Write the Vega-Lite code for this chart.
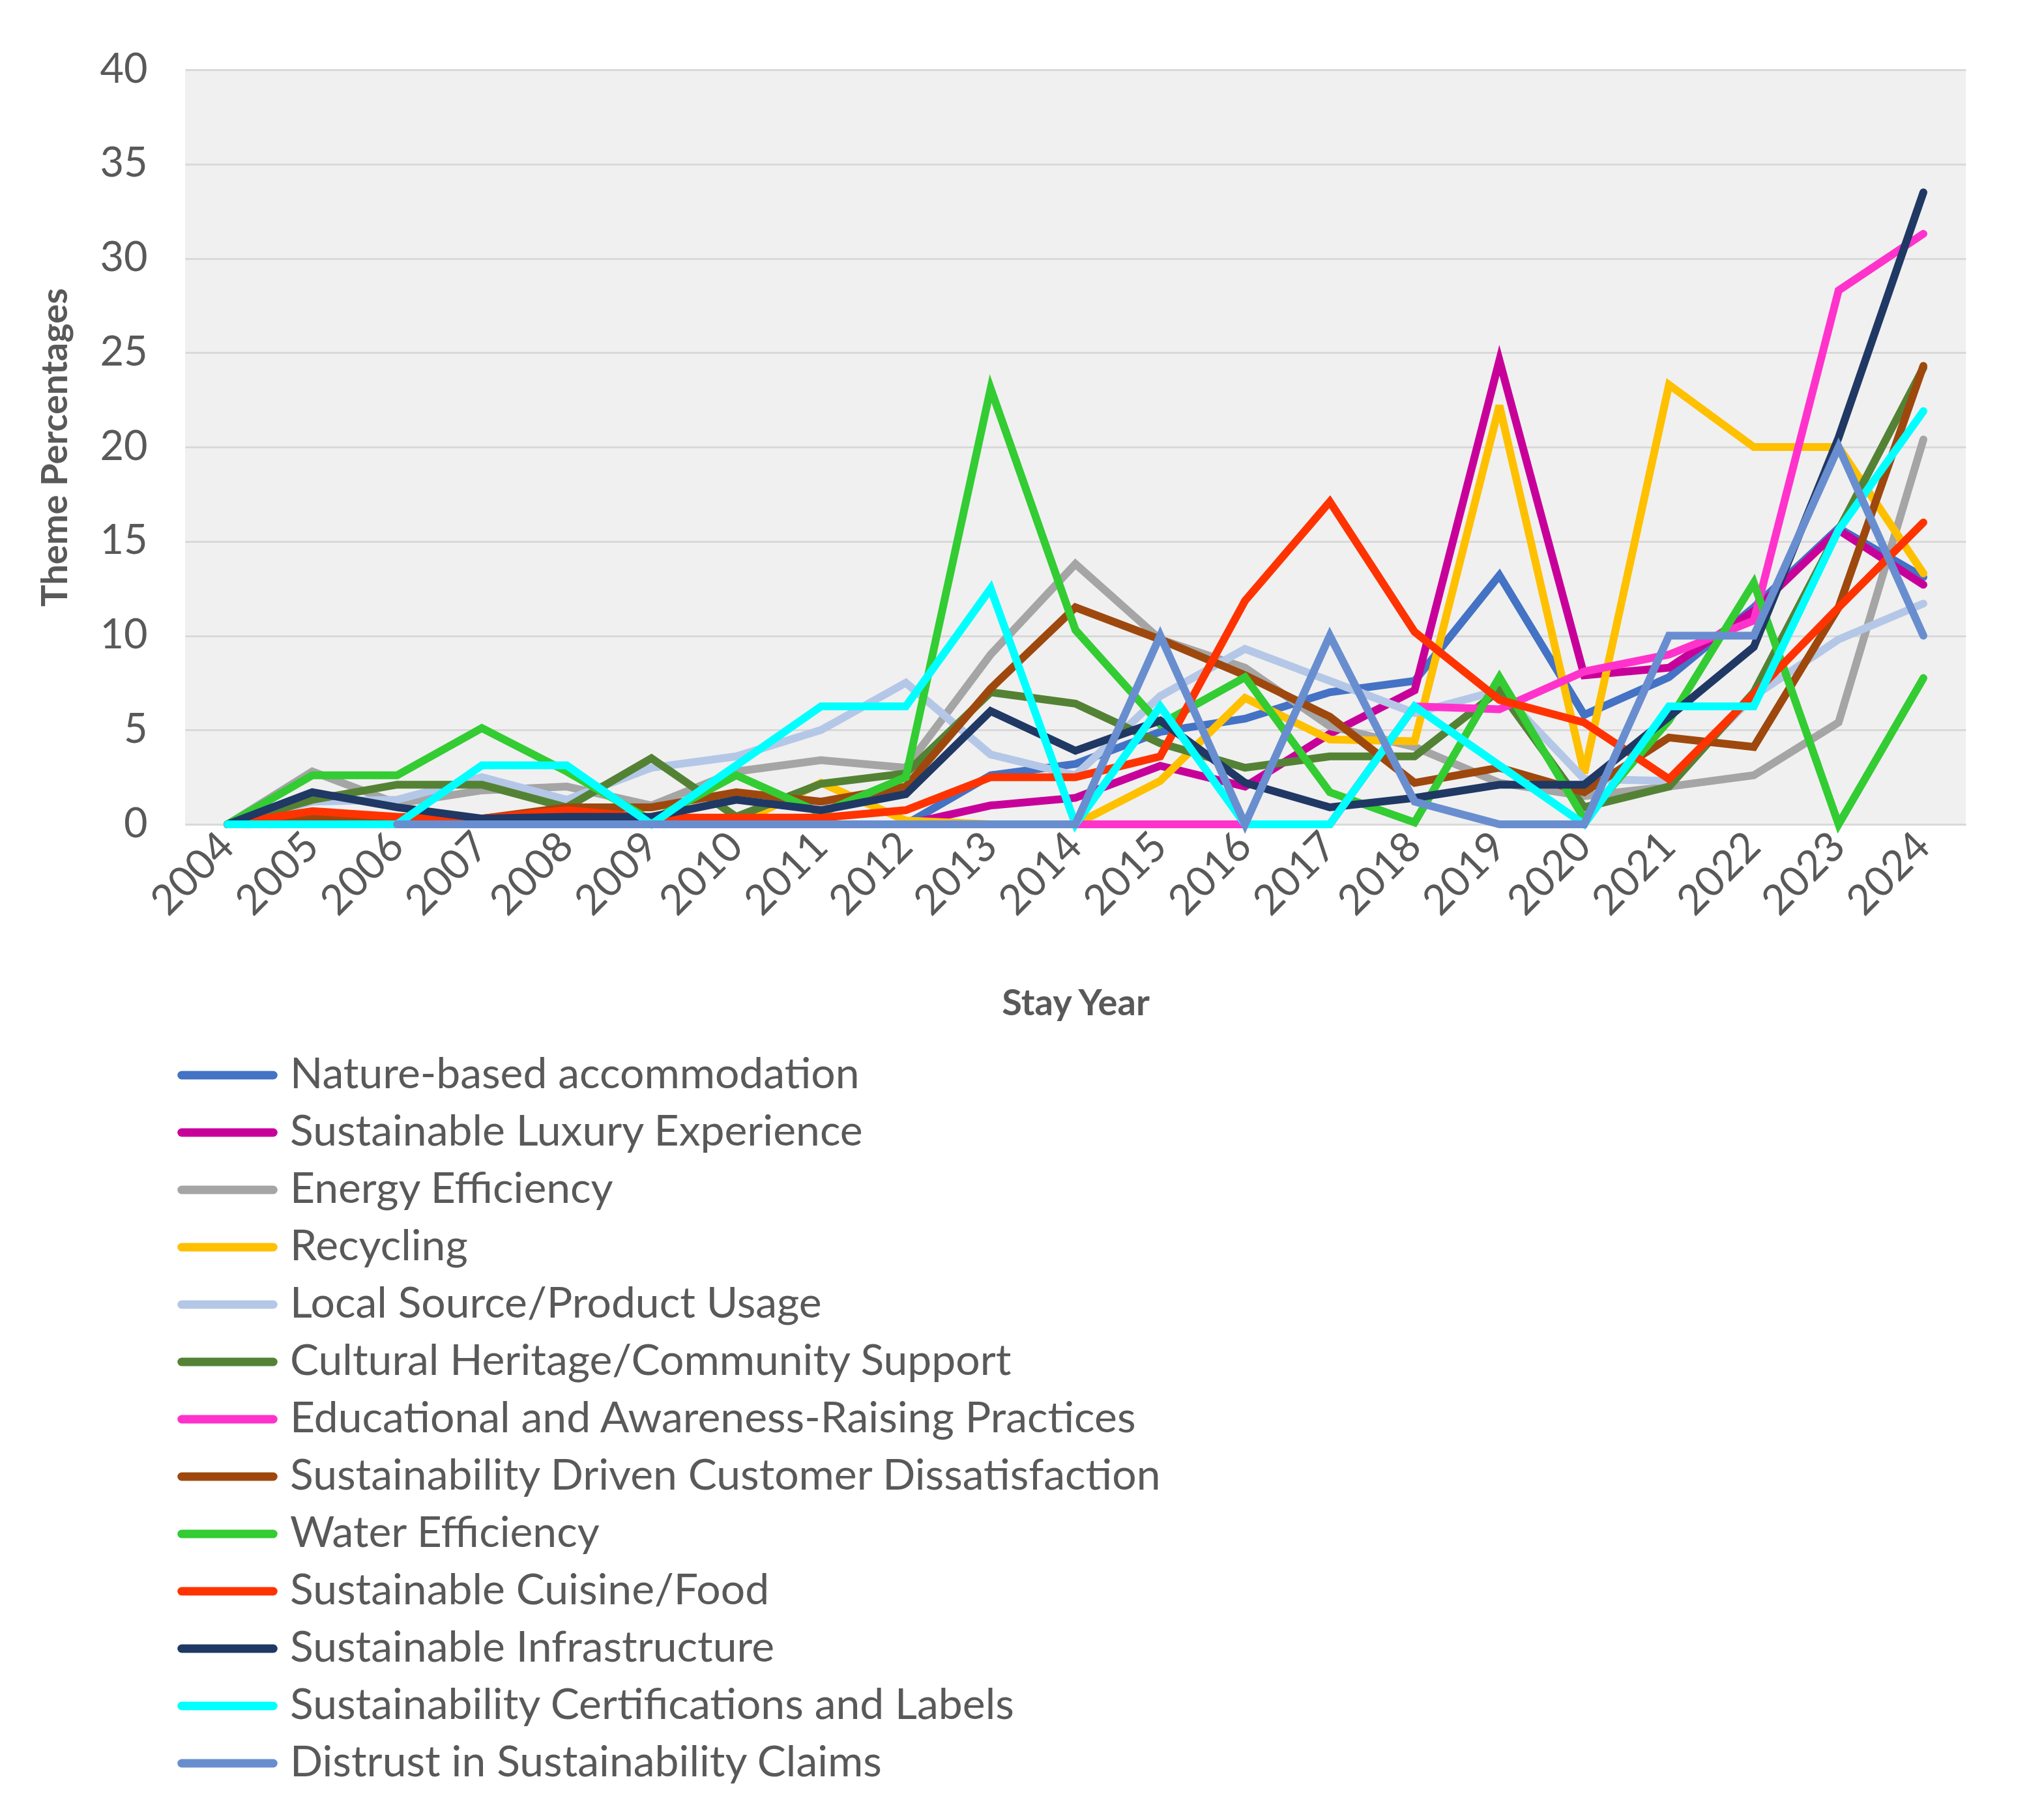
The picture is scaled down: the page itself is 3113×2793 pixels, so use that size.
{
  "$schema": "https://vega.github.io/schema/vega-lite/v6.json",
  "width": 2732,
  "height": 1158,
  "autosize": {"type": "none"},
  "padding": {"left": 284, "top": 107, "right": 97, "bottom": 1528},
  "background": "white",
  "config": {
    "font": "Lato",
    "view": {"fill": "#f0f0f0", "stroke": null}
  },
  "data": {
    "values": [
      {"year": "2004", "theme": "Nature-based accommodation", "pct": 0},
      {"year": "2005", "theme": "Nature-based accommodation", "pct": 0},
      {"year": "2006", "theme": "Nature-based accommodation", "pct": 0},
      {"year": "2007", "theme": "Nature-based accommodation", "pct": 0},
      {"year": "2008", "theme": "Nature-based accommodation", "pct": 0},
      {"year": "2009", "theme": "Nature-based accommodation", "pct": 0},
      {"year": "2010", "theme": "Nature-based accommodation", "pct": 0},
      {"year": "2011", "theme": "Nature-based accommodation", "pct": 0},
      {"year": "2012", "theme": "Nature-based accommodation", "pct": 0},
      {"year": "2013", "theme": "Nature-based accommodation", "pct": 2.6},
      {"year": "2014", "theme": "Nature-based accommodation", "pct": 3.2},
      {"year": "2015", "theme": "Nature-based accommodation", "pct": 4.9},
      {"year": "2016", "theme": "Nature-based accommodation", "pct": 5.6},
      {"year": "2017", "theme": "Nature-based accommodation", "pct": 7.0},
      {"year": "2018", "theme": "Nature-based accommodation", "pct": 7.6},
      {"year": "2019", "theme": "Nature-based accommodation", "pct": 13.2},
      {"year": "2020", "theme": "Nature-based accommodation", "pct": 5.8},
      {"year": "2021", "theme": "Nature-based accommodation", "pct": 7.8},
      {"year": "2022", "theme": "Nature-based accommodation", "pct": 11.5},
      {"year": "2023", "theme": "Nature-based accommodation", "pct": 15.7},
      {"year": "2024", "theme": "Nature-based accommodation", "pct": 13.1},

      {"year": "2004", "theme": "Sustainable Luxury Experience", "pct": 0},
      {"year": "2005", "theme": "Sustainable Luxury Experience", "pct": 0},
      {"year": "2006", "theme": "Sustainable Luxury Experience", "pct": 0},
      {"year": "2007", "theme": "Sustainable Luxury Experience", "pct": 0},
      {"year": "2008", "theme": "Sustainable Luxury Experience", "pct": 0},
      {"year": "2009", "theme": "Sustainable Luxury Experience", "pct": 0},
      {"year": "2010", "theme": "Sustainable Luxury Experience", "pct": 0},
      {"year": "2011", "theme": "Sustainable Luxury Experience", "pct": 0},
      {"year": "2012", "theme": "Sustainable Luxury Experience", "pct": 0},
      {"year": "2013", "theme": "Sustainable Luxury Experience", "pct": 1.0},
      {"year": "2014", "theme": "Sustainable Luxury Experience", "pct": 1.4},
      {"year": "2015", "theme": "Sustainable Luxury Experience", "pct": 3.1},
      {"year": "2016", "theme": "Sustainable Luxury Experience", "pct": 2.0},
      {"year": "2017", "theme": "Sustainable Luxury Experience", "pct": 4.8},
      {"year": "2018", "theme": "Sustainable Luxury Experience", "pct": 7.1},
      {"year": "2019", "theme": "Sustainable Luxury Experience", "pct": 24.6},
      {"year": "2020", "theme": "Sustainable Luxury Experience", "pct": 7.9},
      {"year": "2021", "theme": "Sustainable Luxury Experience", "pct": 8.3},
      {"year": "2022", "theme": "Sustainable Luxury Experience", "pct": 11.3},
      {"year": "2023", "theme": "Sustainable Luxury Experience", "pct": 15.6},
      {"year": "2024", "theme": "Sustainable Luxury Experience", "pct": 12.7},

      {"year": "2004", "theme": "Energy Efficiency", "pct": 0},
      {"year": "2005", "theme": "Energy Efficiency", "pct": 2.8},
      {"year": "2006", "theme": "Energy Efficiency", "pct": 1.1},
      {"year": "2007", "theme": "Energy Efficiency", "pct": 1.8},
      {"year": "2008", "theme": "Energy Efficiency", "pct": 2.0},
      {"year": "2009", "theme": "Energy Efficiency", "pct": 1.0},
      {"year": "2010", "theme": "Energy Efficiency", "pct": 2.8},
      {"year": "2011", "theme": "Energy Efficiency", "pct": 3.4},
      {"year": "2012", "theme": "Energy Efficiency", "pct": 3.0},
      {"year": "2013", "theme": "Energy Efficiency", "pct": 9.0},
      {"year": "2014", "theme": "Energy Efficiency", "pct": 13.8},
      {"year": "2015", "theme": "Energy Efficiency", "pct": 9.8},
      {"year": "2016", "theme": "Energy Efficiency", "pct": 8.3},
      {"year": "2017", "theme": "Energy Efficiency", "pct": 5.2},
      {"year": "2018", "theme": "Energy Efficiency", "pct": 4.1},
      {"year": "2019", "theme": "Energy Efficiency", "pct": 2.2},
      {"year": "2020", "theme": "Energy Efficiency", "pct": 1.5},
      {"year": "2021", "theme": "Energy Efficiency", "pct": 2.0},
      {"year": "2022", "theme": "Energy Efficiency", "pct": 2.6},
      {"year": "2023", "theme": "Energy Efficiency", "pct": 5.4},
      {"year": "2024", "theme": "Energy Efficiency", "pct": 20.4},

      {"year": "2004", "theme": "Recycling", "pct": 0},
      {"year": "2005", "theme": "Recycling", "pct": 0},
      {"year": "2006", "theme": "Recycling", "pct": 0},
      {"year": "2007", "theme": "Recycling", "pct": 0},
      {"year": "2008", "theme": "Recycling", "pct": 0},
      {"year": "2009", "theme": "Recycling", "pct": 0},
      {"year": "2010", "theme": "Recycling", "pct": 0},
      {"year": "2011", "theme": "Recycling", "pct": 2.2},
      {"year": "2012", "theme": "Recycling", "pct": 0.2},
      {"year": "2013", "theme": "Recycling", "pct": 0},
      {"year": "2014", "theme": "Recycling", "pct": 0},
      {"year": "2015", "theme": "Recycling", "pct": 2.3},
      {"year": "2016", "theme": "Recycling", "pct": 6.7},
      {"year": "2017", "theme": "Recycling", "pct": 4.5},
      {"year": "2018", "theme": "Recycling", "pct": 4.4},
      {"year": "2019", "theme": "Recycling", "pct": 22.2},
      {"year": "2020", "theme": "Recycling", "pct": 2.7},
      {"year": "2021", "theme": "Recycling", "pct": 23.3},
      {"year": "2022", "theme": "Recycling", "pct": 20.0},
      {"year": "2023", "theme": "Recycling", "pct": 20.0},
      {"year": "2024", "theme": "Recycling", "pct": 13.3},

      {"year": "2004", "theme": "Local Source/Product Usage", "pct": 0},
      {"year": "2005", "theme": "Local Source/Product Usage", "pct": 1.2},
      {"year": "2006", "theme": "Local Source/Product Usage", "pct": 1.3},
      {"year": "2007", "theme": "Local Source/Product Usage", "pct": 2.5},
      {"year": "2008", "theme": "Local Source/Product Usage", "pct": 1.3},
      {"year": "2009", "theme": "Local Source/Product Usage", "pct": 3.0},
      {"year": "2010", "theme": "Local Source/Product Usage", "pct": 3.6},
      {"year": "2011", "theme": "Local Source/Product Usage", "pct": 5.0},
      {"year": "2012", "theme": "Local Source/Product Usage", "pct": 7.5},
      {"year": "2013", "theme": "Local Source/Product Usage", "pct": 3.7},
      {"year": "2014", "theme": "Local Source/Product Usage", "pct": 2.6},
      {"year": "2015", "theme": "Local Source/Product Usage", "pct": 6.8},
      {"year": "2016", "theme": "Local Source/Product Usage", "pct": 9.3},
      {"year": "2017", "theme": "Local Source/Product Usage", "pct": 7.6},
      {"year": "2018", "theme": "Local Source/Product Usage", "pct": 5.9},
      {"year": "2019", "theme": "Local Source/Product Usage", "pct": 7.1},
      {"year": "2020", "theme": "Local Source/Product Usage", "pct": 2.4},
      {"year": "2021", "theme": "Local Source/Product Usage", "pct": 2.3},
      {"year": "2022", "theme": "Local Source/Product Usage", "pct": 6.8},
      {"year": "2023", "theme": "Local Source/Product Usage", "pct": 9.8},
      {"year": "2024", "theme": "Local Source/Product Usage", "pct": 11.7},

      {"year": "2004", "theme": "Cultural Heritage/Community Support", "pct": 0},
      {"year": "2005", "theme": "Cultural Heritage/Community Support", "pct": 1.3},
      {"year": "2006", "theme": "Cultural Heritage/Community Support", "pct": 2.1},
      {"year": "2007", "theme": "Cultural Heritage/Community Support", "pct": 2.1},
      {"year": "2008", "theme": "Cultural Heritage/Community Support", "pct": 0.9},
      {"year": "2009", "theme": "Cultural Heritage/Community Support", "pct": 3.5},
      {"year": "2010", "theme": "Cultural Heritage/Community Support", "pct": 0.4},
      {"year": "2011", "theme": "Cultural Heritage/Community Support", "pct": 2.15},
      {"year": "2012", "theme": "Cultural Heritage/Community Support", "pct": 2.7},
      {"year": "2013", "theme": "Cultural Heritage/Community Support", "pct": 7.0},
      {"year": "2014", "theme": "Cultural Heritage/Community Support", "pct": 6.4},
      {"year": "2015", "theme": "Cultural Heritage/Community Support", "pct": 4.3},
      {"year": "2016", "theme": "Cultural Heritage/Community Support", "pct": 3.0},
      {"year": "2017", "theme": "Cultural Heritage/Community Support", "pct": 3.6},
      {"year": "2018", "theme": "Cultural Heritage/Community Support", "pct": 3.6},
      {"year": "2019", "theme": "Cultural Heritage/Community Support", "pct": 7.1},
      {"year": "2020", "theme": "Cultural Heritage/Community Support", "pct": 0.9},
      {"year": "2021", "theme": "Cultural Heritage/Community Support", "pct": 2.0},
      {"year": "2022", "theme": "Cultural Heritage/Community Support", "pct": 7.0},
      {"year": "2023", "theme": "Cultural Heritage/Community Support", "pct": 15.6},
      {"year": "2024", "theme": "Cultural Heritage/Community Support", "pct": 24.2},

      {"year": "2004", "theme": "Educational and Awareness-Raising Practices", "pct": 0},
      {"year": "2005", "theme": "Educational and Awareness-Raising Practices", "pct": 0},
      {"year": "2006", "theme": "Educational and Awareness-Raising Practices", "pct": 0},
      {"year": "2007", "theme": "Educational and Awareness-Raising Practices", "pct": 0},
      {"year": "2008", "theme": "Educational and Awareness-Raising Practices", "pct": 0},
      {"year": "2009", "theme": "Educational and Awareness-Raising Practices", "pct": 0},
      {"year": "2010", "theme": "Educational and Awareness-Raising Practices", "pct": 0},
      {"year": "2011", "theme": "Educational and Awareness-Raising Practices", "pct": 0},
      {"year": "2012", "theme": "Educational and Awareness-Raising Practices", "pct": 0},
      {"year": "2013", "theme": "Educational and Awareness-Raising Practices", "pct": 0},
      {"year": "2014", "theme": "Educational and Awareness-Raising Practices", "pct": 0},
      {"year": "2015", "theme": "Educational and Awareness-Raising Practices", "pct": 0},
      {"year": "2016", "theme": "Educational and Awareness-Raising Practices", "pct": 0},
      {"year": "2017", "theme": "Educational and Awareness-Raising Practices", "pct": 0},
      {"year": "2018", "theme": "Educational and Awareness-Raising Practices", "pct": 6.25},
      {"year": "2019", "theme": "Educational and Awareness-Raising Practices", "pct": 6.1},
      {"year": "2020", "theme": "Educational and Awareness-Raising Practices", "pct": 8.1},
      {"year": "2021", "theme": "Educational and Awareness-Raising Practices", "pct": 9.0},
      {"year": "2022", "theme": "Educational and Awareness-Raising Practices", "pct": 10.8},
      {"year": "2023", "theme": "Educational and Awareness-Raising Practices", "pct": 28.3},
      {"year": "2024", "theme": "Educational and Awareness-Raising Practices", "pct": 31.3},

      {"year": "2004", "theme": "Sustainability Driven Customer Dissatisfaction", "pct": 0},
      {"year": "2005", "theme": "Sustainability Driven Customer Dissatisfaction", "pct": 0.3},
      {"year": "2006", "theme": "Sustainability Driven Customer Dissatisfaction", "pct": 0.3},
      {"year": "2007", "theme": "Sustainability Driven Customer Dissatisfaction", "pct": 0.3},
      {"year": "2008", "theme": "Sustainability Driven Customer Dissatisfaction", "pct": 0.9},
      {"year": "2009", "theme": "Sustainability Driven Customer Dissatisfaction", "pct": 0.9},
      {"year": "2010", "theme": "Sustainability Driven Customer Dissatisfaction", "pct": 1.7},
      {"year": "2011", "theme": "Sustainability Driven Customer Dissatisfaction", "pct": 1.2},
      {"year": "2012", "theme": "Sustainability Driven Customer Dissatisfaction", "pct": 2.0},
      {"year": "2013", "theme": "Sustainability Driven Customer Dissatisfaction", "pct": 7.2},
      {"year": "2014", "theme": "Sustainability Driven Customer Dissatisfaction", "pct": 11.5},
      {"year": "2015", "theme": "Sustainability Driven Customer Dissatisfaction", "pct": 9.8},
      {"year": "2016", "theme": "Sustainability Driven Customer Dissatisfaction", "pct": 7.9},
      {"year": "2017", "theme": "Sustainability Driven Customer Dissatisfaction", "pct": 5.7},
      {"year": "2018", "theme": "Sustainability Driven Customer Dissatisfaction", "pct": 2.2},
      {"year": "2019", "theme": "Sustainability Driven Customer Dissatisfaction", "pct": 3.0},
      {"year": "2020", "theme": "Sustainability Driven Customer Dissatisfaction", "pct": 1.7},
      {"year": "2021", "theme": "Sustainability Driven Customer Dissatisfaction", "pct": 4.6},
      {"year": "2022", "theme": "Sustainability Driven Customer Dissatisfaction", "pct": 4.1},
      {"year": "2023", "theme": "Sustainability Driven Customer Dissatisfaction", "pct": 11.5},
      {"year": "2024", "theme": "Sustainability Driven Customer Dissatisfaction", "pct": 24.3},

      {"year": "2004", "theme": "Water Efficiency", "pct": 0},
      {"year": "2005", "theme": "Water Efficiency", "pct": 2.6},
      {"year": "2006", "theme": "Water Efficiency", "pct": 2.6},
      {"year": "2007", "theme": "Water Efficiency", "pct": 5.1},
      {"year": "2008", "theme": "Water Efficiency", "pct": 2.8},
      {"year": "2009", "theme": "Water Efficiency", "pct": 0.2},
      {"year": "2010", "theme": "Water Efficiency", "pct": 2.6},
      {"year": "2011", "theme": "Water Efficiency", "pct": 0.6},
      {"year": "2012", "theme": "Water Efficiency", "pct": 2.5},
      {"year": "2013", "theme": "Water Efficiency", "pct": 23.1},
      {"year": "2014", "theme": "Water Efficiency", "pct": 10.3},
      {"year": "2015", "theme": "Water Efficiency", "pct": 5.3},
      {"year": "2016", "theme": "Water Efficiency", "pct": 7.8},
      {"year": "2017", "theme": "Water Efficiency", "pct": 1.7},
      {"year": "2018", "theme": "Water Efficiency", "pct": 0.1},
      {"year": "2019", "theme": "Water Efficiency", "pct": 7.8},
      {"year": "2020", "theme": "Water Efficiency", "pct": 0.3},
      {"year": "2021", "theme": "Water Efficiency", "pct": 5.5},
      {"year": "2022", "theme": "Water Efficiency", "pct": 12.8},
      {"year": "2023", "theme": "Water Efficiency", "pct": 0},
      {"year": "2024", "theme": "Water Efficiency", "pct": 7.75},

      {"year": "2004", "theme": "Sustainable Cuisine/Food", "pct": 0},
      {"year": "2005", "theme": "Sustainable Cuisine/Food", "pct": 0.7},
      {"year": "2006", "theme": "Sustainable Cuisine/Food", "pct": 0.4},
      {"year": "2007", "theme": "Sustainable Cuisine/Food", "pct": 0.3},
      {"year": "2008", "theme": "Sustainable Cuisine/Food", "pct": 0.75},
      {"year": "2009", "theme": "Sustainable Cuisine/Food", "pct": 0.35},
      {"year": "2010", "theme": "Sustainable Cuisine/Food", "pct": 0.35},
      {"year": "2011", "theme": "Sustainable Cuisine/Food", "pct": 0.35},
      {"year": "2012", "theme": "Sustainable Cuisine/Food", "pct": 0.75},
      {"year": "2013", "theme": "Sustainable Cuisine/Food", "pct": 2.5},
      {"year": "2014", "theme": "Sustainable Cuisine/Food", "pct": 2.5},
      {"year": "2015", "theme": "Sustainable Cuisine/Food", "pct": 3.6},
      {"year": "2016", "theme": "Sustainable Cuisine/Food", "pct": 11.85},
      {"year": "2017", "theme": "Sustainable Cuisine/Food", "pct": 17.1},
      {"year": "2018", "theme": "Sustainable Cuisine/Food", "pct": 10.2},
      {"year": "2019", "theme": "Sustainable Cuisine/Food", "pct": 6.6},
      {"year": "2020", "theme": "Sustainable Cuisine/Food", "pct": 5.4},
      {"year": "2021", "theme": "Sustainable Cuisine/Food", "pct": 2.4},
      {"year": "2022", "theme": "Sustainable Cuisine/Food", "pct": 6.9},
      {"year": "2023", "theme": "Sustainable Cuisine/Food", "pct": 11.5},
      {"year": "2024", "theme": "Sustainable Cuisine/Food", "pct": 16.0},

      {"year": "2004", "theme": "Sustainable Infrastructure", "pct": 0},
      {"year": "2005", "theme": "Sustainable Infrastructure", "pct": 1.7},
      {"year": "2006", "theme": "Sustainable Infrastructure", "pct": 0.9},
      {"year": "2007", "theme": "Sustainable Infrastructure", "pct": 0.3},
      {"year": "2008", "theme": "Sustainable Infrastructure", "pct": 0.4},
      {"year": "2009", "theme": "Sustainable Infrastructure", "pct": 0.4},
      {"year": "2010", "theme": "Sustainable Infrastructure", "pct": 1.3},
      {"year": "2011", "theme": "Sustainable Infrastructure", "pct": 0.75},
      {"year": "2012", "theme": "Sustainable Infrastructure", "pct": 1.6},
      {"year": "2013", "theme": "Sustainable Infrastructure", "pct": 6.0},
      {"year": "2014", "theme": "Sustainable Infrastructure", "pct": 3.9},
      {"year": "2015", "theme": "Sustainable Infrastructure", "pct": 5.5},
      {"year": "2016", "theme": "Sustainable Infrastructure", "pct": 2.2},
      {"year": "2017", "theme": "Sustainable Infrastructure", "pct": 0.9},
      {"year": "2018", "theme": "Sustainable Infrastructure", "pct": 1.4},
      {"year": "2019", "theme": "Sustainable Infrastructure", "pct": 2.1},
      {"year": "2020", "theme": "Sustainable Infrastructure", "pct": 2.1},
      {"year": "2021", "theme": "Sustainable Infrastructure", "pct": 5.7},
      {"year": "2022", "theme": "Sustainable Infrastructure", "pct": 9.4},
      {"year": "2023", "theme": "Sustainable Infrastructure", "pct": 20.5},
      {"year": "2024", "theme": "Sustainable Infrastructure", "pct": 33.5},

      {"year": "2004", "theme": "Sustainability Certifications and Labels", "pct": 0},
      {"year": "2005", "theme": "Sustainability Certifications and Labels", "pct": 0},
      {"year": "2006", "theme": "Sustainability Certifications and Labels", "pct": 0},
      {"year": "2007", "theme": "Sustainability Certifications and Labels", "pct": 3.125},
      {"year": "2008", "theme": "Sustainability Certifications and Labels", "pct": 3.125},
      {"year": "2009", "theme": "Sustainability Certifications and Labels", "pct": 0},
      {"year": "2010", "theme": "Sustainability Certifications and Labels", "pct": 3.125},
      {"year": "2011", "theme": "Sustainability Certifications and Labels", "pct": 6.25},
      {"year": "2012", "theme": "Sustainability Certifications and Labels", "pct": 6.25},
      {"year": "2013", "theme": "Sustainability Certifications and Labels", "pct": 12.5},
      {"year": "2014", "theme": "Sustainability Certifications and Labels", "pct": 0},
      {"year": "2015", "theme": "Sustainability Certifications and Labels", "pct": 6.25},
      {"year": "2016", "theme": "Sustainability Certifications and Labels", "pct": 0},
      {"year": "2017", "theme": "Sustainability Certifications and Labels", "pct": 0},
      {"year": "2018", "theme": "Sustainability Certifications and Labels", "pct": 6.25},
      {"year": "2019", "theme": "Sustainability Certifications and Labels", "pct": 3.125},
      {"year": "2020", "theme": "Sustainability Certifications and Labels", "pct": 0},
      {"year": "2021", "theme": "Sustainability Certifications and Labels", "pct": 6.25},
      {"year": "2022", "theme": "Sustainability Certifications and Labels", "pct": 6.25},
      {"year": "2023", "theme": "Sustainability Certifications and Labels", "pct": 15.6},
      {"year": "2024", "theme": "Sustainability Certifications and Labels", "pct": 21.9},

      {"year": "2006", "theme": "Distrust in Sustainability Claims", "pct": 0},
      {"year": "2007", "theme": "Distrust in Sustainability Claims", "pct": 0},
      {"year": "2008", "theme": "Distrust in Sustainability Claims", "pct": 0},
      {"year": "2009", "theme": "Distrust in Sustainability Claims", "pct": 0},
      {"year": "2010", "theme": "Distrust in Sustainability Claims", "pct": 0},
      {"year": "2011", "theme": "Distrust in Sustainability Claims", "pct": 0},
      {"year": "2012", "theme": "Distrust in Sustainability Claims", "pct": 0},
      {"year": "2013", "theme": "Distrust in Sustainability Claims", "pct": 0},
      {"year": "2014", "theme": "Distrust in Sustainability Claims", "pct": 0},
      {"year": "2015", "theme": "Distrust in Sustainability Claims", "pct": 10},
      {"year": "2016", "theme": "Distrust in Sustainability Claims", "pct": 0},
      {"year": "2017", "theme": "Distrust in Sustainability Claims", "pct": 10},
      {"year": "2018", "theme": "Distrust in Sustainability Claims", "pct": 1.2},
      {"year": "2019", "theme": "Distrust in Sustainability Claims", "pct": 0},
      {"year": "2020", "theme": "Distrust in Sustainability Claims", "pct": 0},
      {"year": "2021", "theme": "Distrust in Sustainability Claims", "pct": 10},
      {"year": "2022", "theme": "Distrust in Sustainability Claims", "pct": 10},
      {"year": "2023", "theme": "Distrust in Sustainability Claims", "pct": 20},
      {"year": "2024", "theme": "Distrust in Sustainability Claims", "pct": 10}
    ]
  },
  "mark": {"type": "line", "strokeWidth": 12, "strokeCap": "round", "strokeJoin": "miter", "strokeMiterLimit": 4},
  "encoding": {
    "x": {
      "field": "year",
      "type": "ordinal",
      "scale": {"type": "point", "padding": 0.5},
      "axis": {
        "title": "Stay Year",
        "titleFontSize": 56,
        "titleFontWeight": "bold",
        "titleColor": "#595959",
        "titlePadding": 97,
        "labelAngle": -45,
        "labelAlign": "right",
        "labelBaseline": "middle",
        "labelFontSize": 64,
        "labelColor": "#595959",
        "labelPadding": 24,
        "ticks": false,
        "grid": false,
        "domainColor": "#d9d9d9",
        "domainWidth": 3
      }
    },
    "y": {
      "field": "pct",
      "type": "quantitative",
      "scale": {"domain": [0, 40], "nice": false},
      "axis": {
        "title": "Theme Percentages",
        "titleFontSize": 56,
        "titleFontWeight": "bold",
        "titleColor": "#595959",
        "titlePadding": 38,
        "values": [0, 5, 10, 15, 20, 25, 30, 35, 40],
        "labelFontSize": 63,
        "labelColor": "#595959",
        "labelPadding": 58,
        "ticks": false,
        "domain": false,
        "gridColor": "#d9d9d9",
        "gridWidth": 3
      }
    },
    "color": {
      "field": "theme",
      "type": "nominal",
      "scale": {
        "domain": [
          "Nature-based accommodation",
          "Sustainable Luxury Experience",
          "Energy Efficiency",
          "Recycling",
          "Local Source/Product Usage",
          "Cultural Heritage/Community Support",
          "Educational and Awareness-Raising Practices",
          "Sustainability Driven Customer Dissatisfaction",
          "Water Efficiency",
          "Sustainable Cuisine/Food",
          "Sustainable Infrastructure",
          "Sustainability Certifications and Labels",
          "Distrust in Sustainability Claims"
        ],
        "range": [
          "#4472c4", "#c8009a", "#a5a5a5", "#ffc000", "#b4c7e7", "#548235",
          "#ff33cc", "#9e480e", "#33cc33", "#ff3300", "#203864", "#00ffff", "#698ed0"
        ]
      },
      "legend": {
        "orient": "none",
        "legendX": 10,
        "legendY": 1488,
        "direction": "vertical",
        "title": null,
        "padding": 0,
        "symbolType": "M-1.45,0H1.45",
        "symbolSize": 9400,
        "symbolStrokeWidth": 13,
        "labelFontSize": 66,
        "labelColor": "#595959",
        "labelLimit": 2000,
        "labelOffset": 41,
        "rowPadding": 0,
        "encode": {"symbols": {"update": {"strokeCap": {"value": "round"}}}}
      }
    }
  }
}
